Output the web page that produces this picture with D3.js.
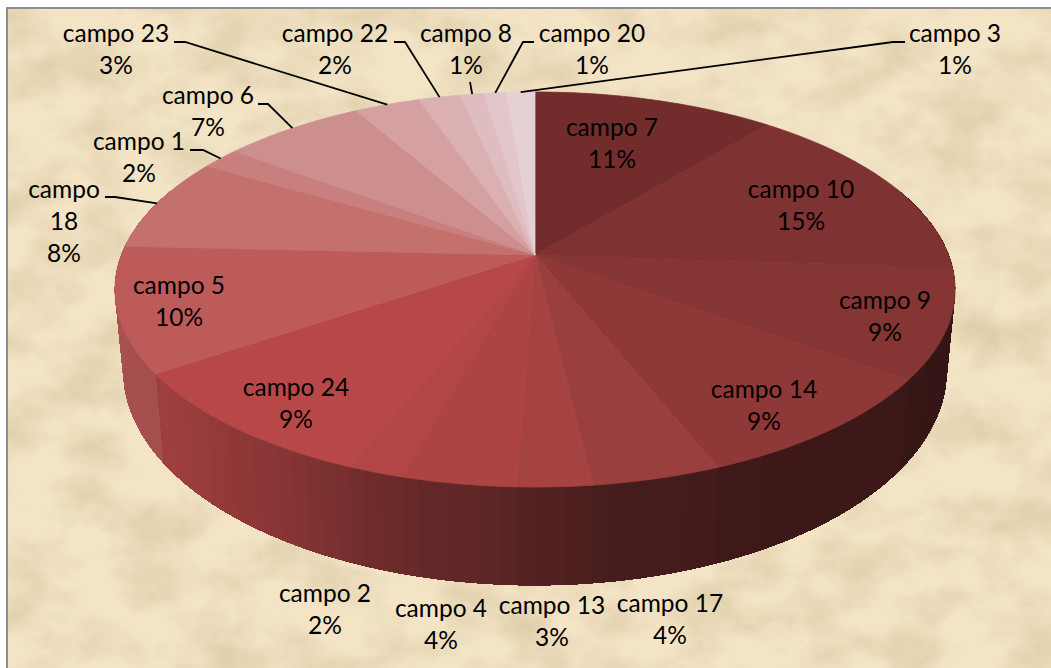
<!DOCTYPE html>
<html>
<head>
<meta charset="utf-8">
<script src="https://cdn.jsdelivr.net/npm/d3@7"></script>
<style>
  html, body { margin: 0; padding: 0; background: #fff; }
  svg { display: block; }
  text { font-family: Lato, "Open Sans", sans-serif; font-size: 24.5px; fill: #000; text-anchor: middle; }
</style>
</head>
<body>
<div id="chart"></div>
<script>
// DATA
const categories = ["campo 7", "campo 10", "campo 9", "campo 14", "campo 17", "campo 13", "campo 4", "campo 2", "campo 24",
  "campo 5", "campo 18", "campo 1", "campo 6", "campo 23", "campo 22", "campo 8", "campo 20", "campo 3"];
const values = [11, 15.1, 8.9, 9, 4.2, 2.45, 3.75, 1.8, 9.4, 10.2, 7.7, 1.8, 6.5, 3, 1.9, 1.1, 1, 1.3];
const percentLabels = ["11%", "15%", "9%", "9%", "4%", "3%", "4%", "2%", "9%", "10%", "8%", "2%", "7%", "3%", "2%", "1%", "1%", "1%"];
const sliceColors = ["#722c2c", "#7f3232", "#863535", "#8f3838", "#9a3e3e", "#a54242", "#ad4444", "#b24646", "#b84848",
  "#bd5a5a", "#c4706d", "#c97f7d", "#cd8f8e", "#d4a0a2", "#dab0b2", "#dfbcbf", "#e2c6cb", "#e5d0d4"];

// label layout: centre x, first line y (middle), wrapped lines
const labelPos = {
  "campo 7": [612, 130], "campo 10": [801, 192], "campo 9": [885, 303], "campo 14": [764, 392],
  "campo 17": [670, 606], "campo 13": [552, 608], "campo 4": [441, 611], "campo 2": [325, 596],
  "campo 24": [296, 390], "campo 5": [179, 288], "campo 18": [64, 192], "campo 1": [139, 144],
  "campo 6": [208, 98], "campo 23": [116, 36], "campo 22": [335, 36], "campo 8": [466, 36],
  "campo 20": [592, 36], "campo 3": [955, 36]
};
// leader lines: start + elbow, the end sits on the pie rim
const leaders = {
  "campo 18": [[105, 197], [115, 197]], "campo 1": [[190, 150], [203, 150]], "campo 6": [[258, 104], [268, 104]],
  "campo 23": [[174, 42], [185, 42]], "campo 22": [[394, 42], [405, 42]], "campo 8": [[470, 82]],
  "campo 20": [[534, 42], [523, 42]], "campo 3": [[905, 42], [893, 42]]
};

const width = 1051, height = 668;

// pie projection, perspective ellipse
const cx = 535, cy = 255, A = 413.6, B = 191.5, p = 0.1746;
const bottomCy = 333, bottomSx = 0.98, bottomSy = 1.087;

function project(t, bottom) {
  const u = Math.sin(t), v = Math.cos(t), w = 1 + p * v;
  const x = A * u / w, y = -B * v / w;
  return bottom ? [cx + x * bottomSx, bottomCy + y * bottomSy] : [cx + x, cy + y];
}

const svg = d3.select("#chart").append("svg").attr("width", width).attr("height", height);

// parchment background
const defs = svg.append("defs");
const paper = defs.append("filter").attr("id", "paper")
  .attr("x", 0).attr("y", 0).attr("width", "100%").attr("height", "100%");
paper.append("feTurbulence").attr("type", "fractalNoise").attr("baseFrequency", "0.016 0.022")
  .attr("numOctaves", 6).attr("seed", 11).attr("result", "noise");
paper.append("feColorMatrix").attr("in", "noise").attr("type", "matrix")
  .attr("values", "0 0 0 0 0.72  0 0 0 0 0.60  0 0 0 0 0.38  1.8 0 0 0 -0.68").attr("result", "tint");
paper.append("feFlood").attr("flood-color", "#f3e4c6").attr("result", "base");
paper.append("feMerge").selectAll("feMergeNode").data(["base", "tint"]).join("feMergeNode").attr("in", (d) => d);

svg.append("rect").attr("x", 7).attr("y", 8).attr("width", width - 7).attr("height", height - 8)
  .attr("filter", "url(#paper)");
svg.append("path").attr("d", `M7,${height}V8H${width}`).attr("fill", "none")
  .attr("stroke", "#8e8e8e").attr("stroke-width", 2);

// SLICES
const arcs = d3.pie().sort(null).value((d) => d)(values);
const line = d3.line();
const deg = Math.PI / 180;

const sideShade = d3.scaleLinear()
  .domain([90, 130, 170, 200, 215, 232, 270])
  .range([0.36, 0.42, 0.45, 0.63, 0.76, 0.86, 0.9])
  .clamp(true);

// side wall, cut in small strips so the light can change along the rim
const strips = [];
arcs.forEach((a, i) => {
  const n = Math.max(1, Math.ceil((a.endAngle - a.startAngle) / (2 * deg)));
  d3.range(n).forEach((k) => {
    const t0 = a.startAngle + (a.endAngle - a.startAngle) * k / n;
    const t1 = a.startAngle + (a.endAngle - a.startAngle) * (k + 1) / n;
    const c = d3.rgb(sliceColors[i]);
    const s = sideShade((t0 + t1) / 2 / deg);
    strips.push({ t0, t1, fill: d3.rgb(c.r * s, c.g * s, c.b * s).formatHex() });
  });
});
svg.append("g").attr("shape-rendering", "crispEdges").selectAll("path")
  .data(strips.filter((d) => Math.cos((d.t0 + d.t1) / 2) < 0.35))
  .join("path")
  .attr("d", (d) => line([project(d.t0), project(d.t1), project(d.t1, true), project(d.t0, true)]) + "Z")
  .attr("fill", (d) => d.fill)
  .attr("stroke", (d) => d.fill)
  .attr("stroke-width", 1);

// top face
svg.append("g").selectAll("path")
  .data(arcs)
  .join("path")
  .attr("d", (a) => {
    const ts = d3.range(a.startAngle, a.endAngle, 0.5 * deg).concat(a.endAngle);
    return line([[cx, cy]].concat(ts.map((t) => project(t)))) + "Z";
  })
  .attr("fill", (a, i) => sliceColors[i])
  .attr("stroke", (a, i) => sliceColors[i])
  .attr("stroke-width", 0.8);

// LEADERS
svg.append("g").selectAll("path")
  .data(arcs.filter((a, i) => leaders[categories[i]]))
  .join("path")
  .attr("d", (a) => {
    const pts = leaders[categories[a.index]];
    return line(pts.concat([project((a.startAngle + a.endAngle) / 2)]));
  })
  .attr("fill", "none")
  .attr("stroke", "#000")
  .attr("stroke-width", 1.8);

// LABELS
const labels = svg.append("g").selectAll("text")
  .data(categories)
  .join("text")
  .attr("x", (d) => labelPos[d][0])
  .attr("y", (d) => labelPos[d][1])
  .attr("dominant-baseline", "middle");

labels.each(function (d, i) {
  const lines = d === "campo 18" ? ["campo", "18", percentLabels[i]] : [d, percentLabels[i]];
  d3.select(this).selectAll("tspan")
    .data(lines)
    .join("tspan")
    .attr("x", labelPos[d][0])
    .attr("y", (l, k) => labelPos[d][1] + k * 32)
    .text((l) => l);
});
</script>
</body>
</html>
